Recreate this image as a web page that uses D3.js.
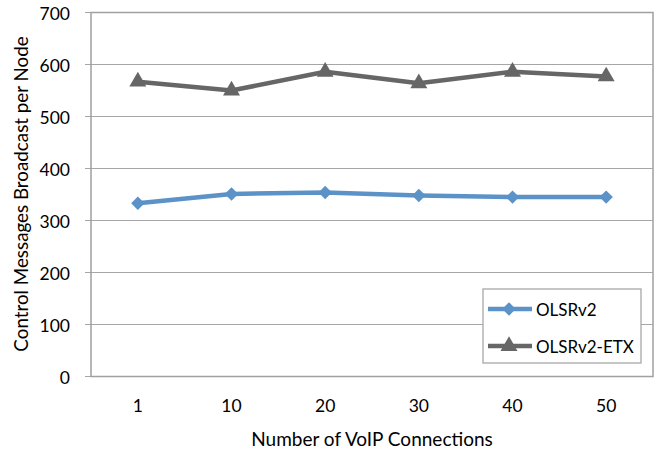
<!DOCTYPE html>
<html>
<head>
<meta charset="utf-8">
<script src="https://cdn.jsdelivr.net/npm/d3@7"></script>
<style>
  body { margin: 0; background: #fff; }
  text { font-family: Lato, "Open Sans", sans-serif; fill: #000; }
</style>
</head>
<body>
<div id="chart"></div>
<script>
// values
const categories = ["1", "10", "20", "30", "40", "50"];
const olsrv2 = [333, 351, 354, 348, 345, 345];
const olsrv2Etx = [567, 550, 586, 564, 586, 577];
const yTicks = [0, 100, 200, 300, 400, 500, 600, 700];

const width = 656, height = 452;
const margin = { top: 12.5, right: 3, bottom: 75.5, left: 91 };
const w = width - margin.left - margin.right;
const h = height - margin.top - margin.bottom;

const svg = d3.select("#chart")
    .append("svg")
    .attr("width", width)
    .attr("height", height);

const g = svg.append("g")
    .attr("transform", `translate(${margin.left},${margin.top})`);

const x = d3.scaleBand()
    .domain(categories)
    .range([0, w]);

const y = d3.scaleLinear()
    .domain([0, 700])
    .range([h, 0]);

// gridlines (with the little outside ticks)
g.selectAll(".grid")
    .data(yTicks)
    .enter()
    .append("line")
    .attr("x1", -6)
    .attr("x2", w)
    .attr("y1", d => y(d))
    .attr("y2", d => y(d))
    .attr("stroke", "#a6a6a6")
    .attr("stroke-width", 1.2);

// plot border
g.append("rect")
    .attr("x", 0)
    .attr("y", 0)
    .attr("width", w)
    .attr("height", h)
    .attr("fill", "none")
    .attr("stroke", "#a0a0a0")
    .attr("stroke-width", 1.5);

// y axis tick labels
const yAxis = g.append("g")
    .call(d3.axisLeft(y).tickValues(yTicks).tickSize(0).tickPadding(21));
yAxis.select(".domain").remove();
yAxis.selectAll("text")
    .attr("font-size", 17.5)
    .attr("font-family", "Lato, sans-serif")
    .attr("dy", "0.42em");

// x axis labels
const xAxis = g.append("g")
    .attr("transform", `translate(0,${h})`)
    .call(d3.axisBottom(x).tickSize(0).tickPadding(23));
xAxis.select(".domain").remove();
xAxis.selectAll("text").attr("font-size", 17.5).attr("font-family", "Lato, sans-serif");

// axis titles
svg.append("text")
    .attr("x", 372)
    .attr("y", 446)
    .attr("text-anchor", "middle")
    .attr("font-size", 19)
    .text("Number of VoIP Connections");

svg.append("text")
    .attr("transform", "translate(28,194) rotate(-90)")
    .attr("text-anchor", "middle")
    .attr("font-size", 18.8)
    .text("Control Messages Broadcast per Node");

const series = [
    { name: "OLSRv2", values: olsrv2, color: "#5b92c8", marker: d3.symbolDiamond2, size: 115 },
    { name: "OLSRv2-ETX", values: olsrv2Etx, color: "#666666", marker: d3.symbolTriangle, size: 125 }
];

const line = d3.line()
    .x((d, i) => x(categories[i]) + x.bandwidth() / 2)
    .y(d => y(d));

series.forEach(s => {
    g.append("path")
        .datum(s.values)
        .attr("fill", "none")
        .attr("stroke", s.color)
        .attr("stroke-width", 4.5)
        .attr("stroke-linejoin", "round")
        .attr("d", line);

    g.selectAll(null)
        .data(s.values)
        .enter()
        .append("path")
        .attr("transform", (d, i) => `translate(${x(categories[i]) + x.bandwidth() / 2},${y(d)})`)
        .attr("d", d3.symbol().type(s.marker).size(s.size))
        .attr("fill", s.color);
});

// legend
const legend = svg.append("g")
    .attr("transform", "translate(483,289)");

legend.append("rect")
    .attr("width", 158)
    .attr("height", 74)
    .attr("fill", "#fff")
    .attr("stroke", "#a0a0a0")
    .attr("stroke-width", 1.2);

series.forEach((s, i) => {
    const ly = 20 + i * 37;
    legend.append("line")
        .attr("x1", 5)
        .attr("x2", 49)
        .attr("y1", ly)
        .attr("y2", ly)
        .attr("stroke", s.color)
        .attr("stroke-width", 4.5);
    legend.append("path")
        .attr("transform", `translate(26,${ly})`)
        .attr("d", d3.symbol().type(s.marker).size(s.size))
        .attr("fill", s.color);
    legend.append("text")
        .attr("x", 53)
        .attr("y", ly + 7)
        .attr("font-size", 17)
        .text(s.name);
});
</script>
</body>
</html>
